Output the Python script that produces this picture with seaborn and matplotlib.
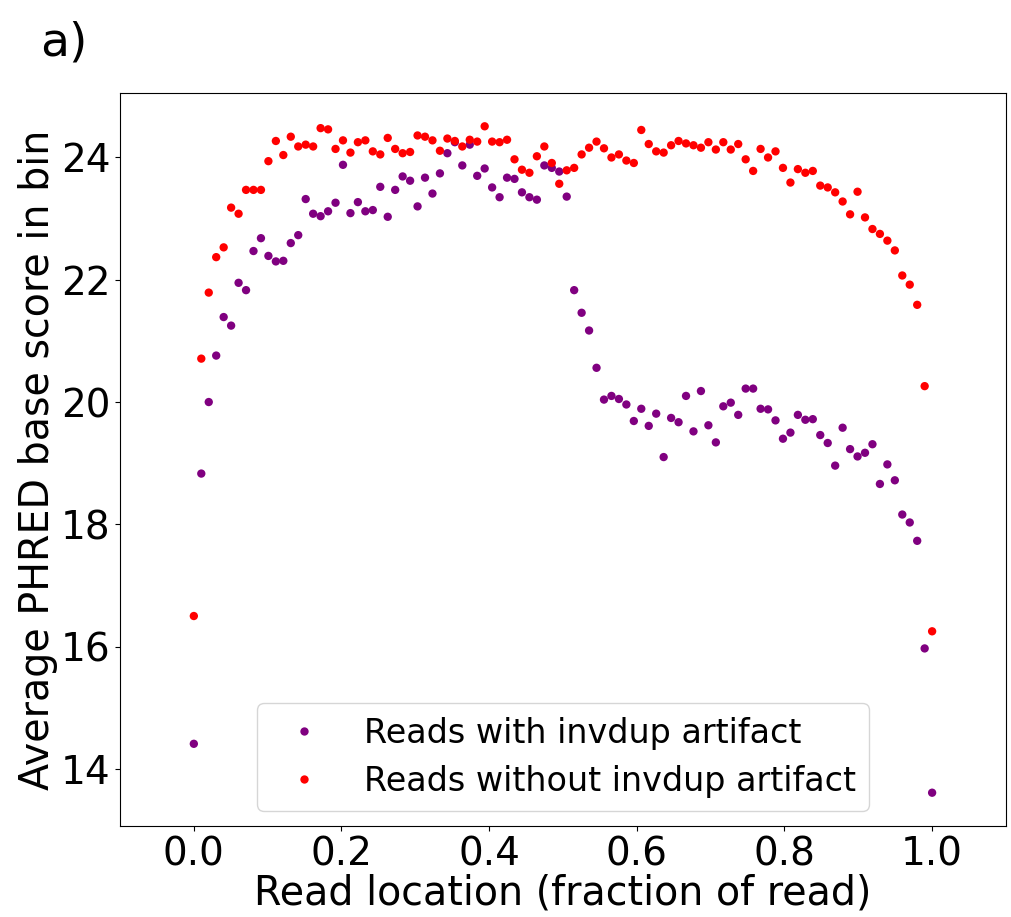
import numpy as np
import pandas as pd
import matplotlib
matplotlib.use("Agg")
import matplotlib.pyplot as plt
import seaborn as sns

label_with = "Reads with invdup artifact"
label_without = "Reads without invdup artifact"

with_invdup = [
    14.41, 18.83, 20.00, 20.76, 21.39, 21.25, 21.95, 21.83, 22.47, 22.68,
    22.39, 22.30, 22.31, 22.60, 22.73, 23.32, 23.08, 23.04, 23.12, 23.26,
    23.88, 23.09, 23.27, 23.12, 23.14, 23.52, 23.03, 23.47, 23.69, 23.62,
    23.20, 23.67, 23.41, 23.74, 24.07, 24.25, 23.87, 24.21, 23.70, 23.82,
    23.51, 23.35, 23.67, 23.65, 23.43, 23.35, 23.31, 23.87, 23.83, 23.77,
    23.36, 21.83, 21.46, 21.17, 20.56, 20.04, 20.10, 20.05, 19.96, 19.69,
    19.89, 19.61, 19.81, 19.10, 19.74, 19.67, 20.10, 19.52, 20.18, 19.62,
    19.34, 19.93, 19.99, 19.79, 20.22, 20.22, 19.89, 19.88, 19.70, 19.40,
    19.50, 19.79, 19.71, 19.72, 19.46, 19.33, 18.96, 19.58, 19.23, 19.11,
    19.17, 19.31, 18.66, 18.98, 18.72, 18.16, 18.03, 17.73, 15.97, 13.61,
]

without_invdup = [
    16.50, 20.71, 21.79, 22.37, 22.53, 23.18, 23.08, 23.47, 23.47, 23.47,
    23.94, 24.27, 24.04, 24.34, 24.18, 24.21, 24.18, 24.48, 24.46, 24.14,
    24.28, 24.08, 24.25, 24.28, 24.10, 24.05, 24.32, 24.14, 24.07, 24.09,
    24.36, 24.34, 24.28, 24.11, 24.31, 24.27, 24.18, 24.29, 24.26, 24.51,
    24.26, 24.25, 24.29, 23.97, 23.80, 23.75, 24.02, 24.18, 23.91, 23.57,
    23.79, 23.83, 24.05, 24.16, 24.26, 24.15, 24.00, 24.05, 23.95, 23.91,
    24.45, 24.22, 24.10, 24.08, 24.20, 24.27, 24.23, 24.20, 24.16, 24.25,
    24.13, 24.25, 24.13, 24.22, 23.97, 23.78, 24.14, 24.00, 24.10, 23.83,
    23.59, 23.81, 23.75, 23.78, 23.54, 23.51, 23.43, 23.28, 23.07, 23.44,
    23.02, 22.83, 22.75, 22.64, 22.48, 22.07, 21.92, 21.59, 20.26, 16.25,
]

n = len(with_invdup)
location = list(np.linspace(0, 1, n))

df = pd.DataFrame({
    "location": location * 2,
    "score": with_invdup + without_invdup,
    "group": [label_with] * n + [label_without] * n,
})

fig = plt.figure(figsize=(10.11, 9.17), dpi=100)
ax = fig.add_axes([0.1187, 0.0992, 0.8763, 0.7994])

sns.scatterplot(
    data=df, x="location", y="score", hue="group",
    palette={label_with: "purple", label_without: "red"},
    s=36, linewidth=0, ax=ax,
)

ax.set_xlim(-0.1, 1.1)
ax.set_xticks([0.0, 0.2, 0.4, 0.6, 0.8, 1.0])
ax.set_yticks([14, 16, 18, 20, 22, 24])
ax.tick_params(labelsize=28)
ax.set_xlabel("Read location (fraction of read)", fontsize=28.5, labelpad=0)
ax.set_ylabel("Average PHRED base score in bin", fontsize=28.5, labelpad=2)

leg = ax.legend(loc="lower center", fontsize=24, scatterpoints=1,
                markerscale=1.0, frameon=True, borderaxespad=0.45,
                labelspacing=0.45)

fig.text(0.04, 0.94, "a)", fontsize=34, ha="left", va="baseline")

fig.savefig("out.png", dpi=100)
